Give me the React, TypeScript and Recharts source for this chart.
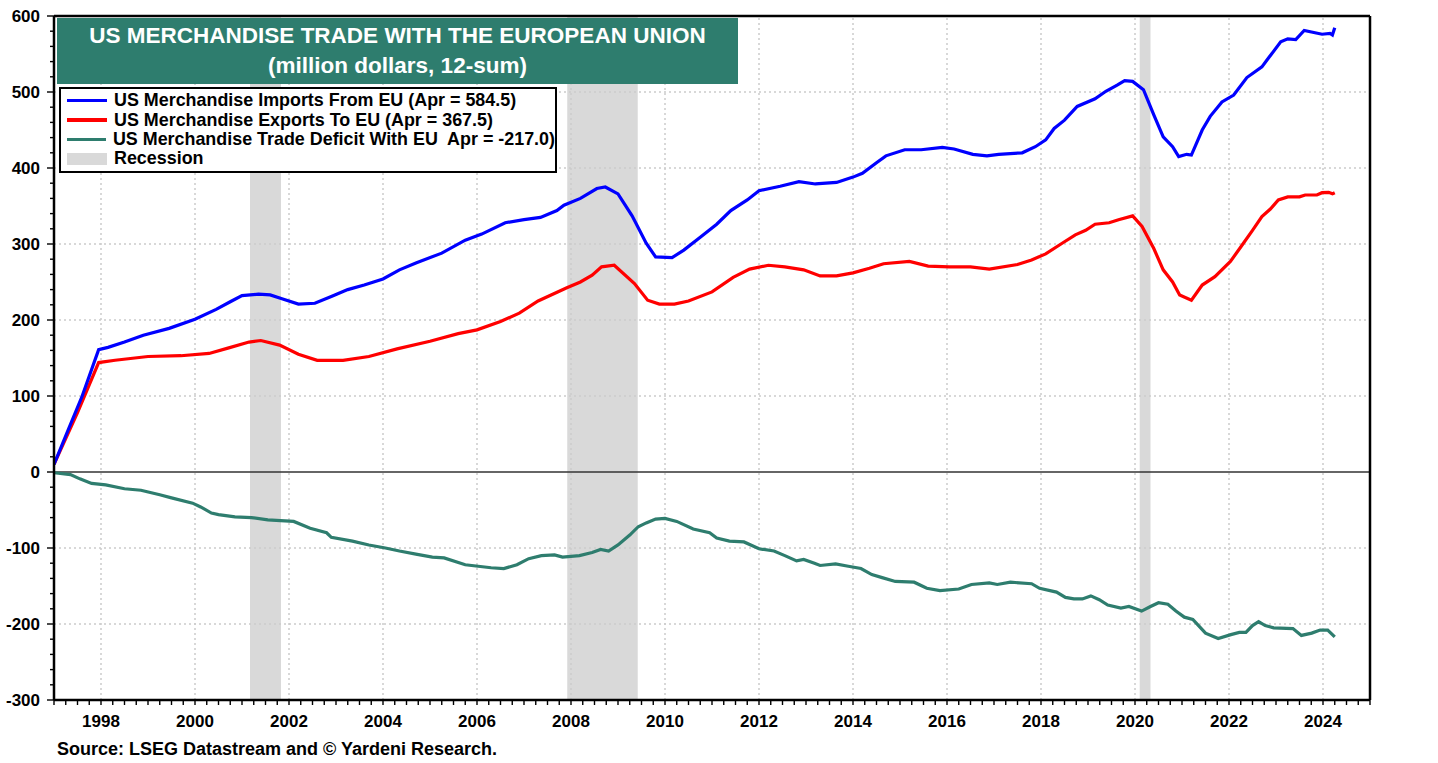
import { ComposedChart, Line, XAxis, YAxis, ReferenceArea, ReferenceLine } from "recharts";

// values (million dollars, 12-month sum)
const imports: [number, number][] = [
  [1997.0, 10], [1997.3, 55], [1997.6, 100], [1997.95, 161], [1998.15, 164], [1998.5, 171],
  [1998.9, 180], [1999.45, 189], [2000.0, 201], [2000.45, 214], [2000.75, 224], [2001.0, 232],
  [2001.35, 234], [2001.6, 233], [2001.85, 228], [2002.2, 221], [2002.55, 222], [2002.9, 231],
  [2003.25, 240], [2003.6, 246], [2004.0, 254], [2004.35, 266], [2004.7, 275], [2005.25, 288],
  [2005.75, 305], [2006.1, 313], [2006.6, 328], [2007.0, 332], [2007.35, 335], [2007.7, 344],
  [2007.85, 351], [2008.2, 360], [2008.55, 373], [2008.73, 375], [2009.0, 366], [2009.3, 337],
  [2009.6, 301], [2009.8, 283], [2010.15, 282], [2010.4, 292], [2010.75, 309], [2011.1, 326],
  [2011.4, 344], [2011.75, 358], [2012.0, 370], [2012.45, 376], [2012.85, 382], [2013.2, 379],
  [2013.65, 381], [2014.0, 388], [2014.2, 393], [2014.5, 407], [2014.7, 416], [2015.1, 424],
  [2015.45, 424], [2015.9, 427], [2016.15, 425], [2016.55, 418], [2016.85, 416], [2017.1, 418],
  [2017.6, 420], [2017.88, 428], [2018.1, 437], [2018.28, 452], [2018.5, 463], [2018.77, 481],
  [2019.15, 491], [2019.38, 501], [2019.62, 509], [2019.78, 515], [2019.95, 514], [2020.18, 503],
  [2020.4, 470], [2020.6, 441], [2020.8, 428], [2020.93, 415], [2021.1, 418], [2021.2, 417],
  [2021.43, 450], [2021.6, 468], [2021.85, 487], [2022.1, 496], [2022.38, 519], [2022.7, 533],
  [2022.82, 543], [2023.1, 566], [2023.25, 570], [2023.42, 569], [2023.6, 581], [2023.98, 576],
  [2024.15, 577], [2024.2, 575], [2024.25, 584.5],
];

const exportsEU: [number, number][] = [
  [1997.0, 10], [1997.5, 78], [1997.95, 144], [1998.3, 147], [1999.0, 152], [1999.7, 153],
  [2000.3, 156], [2000.7, 163], [2001.15, 171], [2001.4, 173], [2001.8, 167], [2002.2, 155],
  [2002.6, 147], [2003.15, 147], [2003.7, 152], [2004.3, 162], [2005.0, 172], [2005.6, 182],
  [2006.0, 187], [2006.5, 198], [2006.9, 209], [2007.3, 225], [2007.9, 242], [2008.2, 250],
  [2008.45, 259], [2008.65, 270], [2008.92, 272], [2009.35, 248], [2009.63, 226], [2009.88, 221],
  [2010.2, 221], [2010.5, 225], [2011.0, 237], [2011.45, 256], [2011.8, 267], [2012.2, 272],
  [2012.55, 270], [2012.95, 266], [2013.3, 258], [2013.65, 258], [2014.0, 262], [2014.35, 268],
  [2014.65, 274], [2015.2, 277], [2015.6, 271], [2016.05, 270], [2016.5, 270], [2016.9, 267],
  [2017.5, 273], [2017.8, 279], [2018.1, 287], [2018.45, 301], [2018.73, 312], [2018.95, 318],
  [2019.15, 326], [2019.45, 328], [2019.65, 332], [2019.95, 337], [2020.15, 323], [2020.4, 294],
  [2020.6, 266], [2020.8, 250], [2020.95, 233], [2021.2, 226], [2021.43, 246], [2021.7, 257],
  [2022.03, 277], [2022.25, 296], [2022.5, 318], [2022.7, 336], [2022.88, 346], [2023.05, 358],
  [2023.25, 362], [2023.5, 362], [2023.62, 364.5], [2023.87, 364.5], [2023.98, 367.5],
  [2024.12, 368], [2024.2, 366], [2024.25, 367.5],
];

const deficit: [number, number][] = [
  [1997.0, -1], [1997.35, -3.5], [1997.55, -9], [1997.8, -15], [1998.1, -17], [1998.5, -22],
  [1998.85, -24], [1999.25, -30], [1999.5, -34], [1999.95, -41], [2000.12, -46], [2000.35, -54],
  [2000.5, -56], [2000.85, -59], [2001.2, -60], [2001.55, -63], [2001.82, -64], [2002.1, -65],
  [2002.45, -74], [2002.8, -80], [2002.9, -86], [2003.35, -91], [2003.7, -96], [2004.05, -100],
  [2004.35, -104], [2004.7, -108], [2005.05, -112], [2005.3, -113], [2005.75, -122], [2006.3, -126],
  [2006.57, -127], [2006.85, -122], [2007.1, -114], [2007.37, -110], [2007.65, -109], [2007.82, -112],
  [2008.18, -110], [2008.45, -106], [2008.63, -102], [2008.8, -104], [2009.0, -96], [2009.25, -83],
  [2009.43, -72], [2009.6, -67], [2009.8, -62], [2010.0, -61], [2010.25, -65], [2010.6, -75],
  [2010.95, -80], [2011.1, -87], [2011.37, -91], [2011.68, -92], [2012.0, -101], [2012.32, -104],
  [2012.55, -110], [2012.8, -117], [2012.95, -115], [2013.18, -120], [2013.3, -123], [2013.63, -121],
  [2013.9, -124], [2014.17, -127], [2014.4, -135], [2014.62, -139], [2014.9, -144], [2015.3, -145],
  [2015.57, -153], [2015.85, -156], [2016.25, -154], [2016.52, -148], [2016.9, -146], [2017.07, -148],
  [2017.35, -145], [2017.8, -147], [2017.97, -153], [2018.33, -158], [2018.52, -165], [2018.7, -167],
  [2018.88, -167], [2019.06, -163], [2019.24, -168], [2019.42, -175], [2019.7, -179], [2019.87, -177],
  [2020.14, -183], [2020.33, -177], [2020.5, -172], [2020.7, -174], [2020.87, -183], [2021.05, -191],
  [2021.23, -194], [2021.5, -212], [2021.77, -219], [2022.04, -214], [2022.22, -211], [2022.36, -211],
  [2022.5, -202], [2022.63, -197], [2022.77, -202], [2022.95, -205], [2023.36, -206], [2023.54, -215],
  [2023.76, -212], [2023.94, -208], [2024.1, -208], [2024.25, -217],
];

const recessions: [number, number][] = [[2001.17, 2001.83], [2007.92, 2009.42], [2020.1, 2020.33]];
const yearLabels = [1998, 2000, 2002, 2004, 2006, 2008, 2010, 2012, 2014, 2016, 2018, 2020, 2022, 2024];
const valueLabels = [-300, -200, -100, 0, 100, 200, 300, 400, 500, 600];

const legendItems = [
  { label: "US Merchandise Imports From EU (Apr = 584.5)", color: "#0000ff", kind: "line" },
  { label: "US Merchandise Exports To EU (Apr = 367.5)", color: "#ff0000", kind: "line" },
  { label: "US Merchandise Trade Deficit With EU  Apr = -217.0)", color: "#2e7d6e", kind: "line" },
  { label: "Recession", color: "#d9d9d9", kind: "box" },
];

const FONT = '"Liberation Sans", Arial, Helvetica, sans-serif';
const TEAL = "#2e7d6e";

const toPoints = (rows: [number, number][]) => rows.map(([t, v]) => ({ t, v }));

const xTicks = Array.from({ length: 28 * 4 + 1 }, (_, i) => 1997 + i / 4);
const yTicks = Array.from({ length: 46 }, (_, i) => -300 + i * 20);

function XTick(props: any) {
  const { x, y, payload } = props;
  const v = payload.value as number;
  const labeled = yearLabels.includes(v);
  return (
    <g>
      <line x1={x} x2={x} y1={y} y2={y + 5} stroke="#000" strokeWidth={1.4} />
      {labeled && (
        <text x={x} y={y + 27} textAnchor="middle" fontFamily={FONT} fontWeight="bold" fontSize={17} fill="#000">
          {v}
        </text>
      )}
    </g>
  );
}

function YTick(props: any) {
  const { x, y, payload, side } = props;
  const v = payload.value as number;
  const major = valueLabels.includes(v);
  const dir = side === "left" ? -1 : 1;
  return (
    <g>
      <line x1={x} x2={x + dir * (major ? 7 : 4)} y1={y} y2={y} stroke="#000" strokeWidth={1.4} />
      {major && (
        <text
          x={x + dir * 14}
          y={y}
          dy="0.36em"
          textAnchor={side === "left" ? "end" : "start"}
          fontFamily={FONT}
          fontWeight="bold"
          fontSize={17}
          fill="#000"
        >
          {v}
        </text>
      )}
    </g>
  );
}

export default function App() {
  return (
    <div style={{ position: "absolute", left: 0, top: 0, width: 1438, height: 763, background: "#fff" }}>
      <ComposedChart width={1438} height={763} margin={{ top: 16, right: 0, bottom: 0, left: 0 }}>
        <XAxis
          dataKey="t"
          type="number"
          domain={[1997, 2025]}
          ticks={xTicks}
          interval={0}
          tickSize={0}
          tickMargin={0}
          tickLine={false}
          tick={<XTick />}
          height={63}
          axisLine={{ stroke: "#000", strokeWidth: 2.5 }}
          allowDataOverflow
        />
        <YAxis
          yAxisId="l"
          orientation="left"
          type="number"
          domain={[-300, 600]}
          ticks={yTicks}
          interval={0}
          tickSize={0}
          tickMargin={0}
          tickLine={false}
          tick={<YTick side="left" />}
          width={54}
          axisLine={{ stroke: "#000", strokeWidth: 2.5 }}
        />
        <YAxis
          yAxisId="r"
          orientation="right"
          type="number"
          domain={[-300, 600]}
          ticks={yTicks}
          interval={0}
          tickSize={0}
          tickMargin={0}
          tickLine={false}
          tick={<YTick side="right" />}
          width={68}
          axisLine={{ stroke: "#000", strokeWidth: 2.5 }}
        />
        {recessions.map(([a, b]) => (
          <ReferenceArea key={a} yAxisId="l" x1={a} x2={b} y1={-300} y2={600} fill="#d9d9d9" fillOpacity={1} stroke="none" />
        ))}
        {valueLabels
          .filter((v) => v !== 0 && v !== -300 && v !== 600)
          .map((v) => (
            <ReferenceLine key={"h" + v} yAxisId="l" y={v} stroke="#cbcbcb" strokeWidth={1.5} strokeDasharray="2 3" />
          ))}
        {yearLabels.map((yr) => (
          <ReferenceLine key={"v" + yr} yAxisId="l" x={yr} stroke="#cbcbcb" strokeWidth={1.5} strokeDasharray="2 3" />
        ))}
        <ReferenceLine yAxisId="l" y={0} stroke="#333" strokeWidth={1.5} />
        <ReferenceLine yAxisId="l" y={600} stroke="#000" strokeWidth={2.5} />
        <Line
          yAxisId="l"
          data={toPoints(deficit)}
          dataKey="v"
          type="linear"
          stroke={TEAL}
          strokeWidth={3.2}
          dot={false}
          isAnimationActive={false}
        />
        <Line
          yAxisId="l"
          data={toPoints(exportsEU)}
          dataKey="v"
          type="linear"
          stroke="#ff0000"
          strokeWidth={3.2}
          dot={false}
          isAnimationActive={false}
        />
        <Line
          yAxisId="l"
          data={toPoints(imports)}
          dataKey="v"
          type="linear"
          stroke="#0000ff"
          strokeWidth={3.2}
          dot={false}
          isAnimationActive={false}
        />
      </ComposedChart>

      <div
        style={{
          position: "absolute",
          left: 57,
          top: 18,
          width: 681,
          height: 66,
          background: TEAL,
          color: "#fff",
          fontFamily: FONT,
          fontWeight: "bold",
          fontSize: 22.5,
          textAlign: "center",
          lineHeight: "30px",
          paddingTop: 3,
          boxSizing: "border-box",
        }}
      >
        <div>US MERCHANDISE TRADE WITH THE EUROPEAN UNION</div>
        <div>(million dollars, 12-sum)</div>
      </div>

      <div
        style={{
          position: "absolute",
          left: 59,
          top: 87,
          width: 498,
          height: 86,
          background: "#fff",
          border: "2px solid #000",
          boxSizing: "border-box",
          paddingTop: 2,
          fontFamily: FONT,
          fontWeight: "bold",
          fontSize: 17.9,
          color: "#000",
        }}
      >
        {legendItems.map((it) => (
          <div key={it.label} style={{ display: "flex", alignItems: "center", height: 19.4, whiteSpace: "pre" }}>
            <div style={{ width: 6 }} />
            {it.kind === "line" ? (
              <div style={{ width: 40, height: 3.5, background: it.color }} />
            ) : (
              <div style={{ width: 40, height: 12, background: it.color }} />
            )}
            <div style={{ width: 7 }} />
            <span>{it.label}</span>
          </div>
        ))}
      </div>

      <div
        style={{
          position: "absolute",
          left: 57,
          top: 739,
          fontFamily: FONT,
          fontWeight: "bold",
          fontSize: 18,
          color: "#000",
          whiteSpace: "nowrap",
        }}
      >
        Source: LSEG Datastream and © Yardeni Research.
      </div>
    </div>
  );
}
